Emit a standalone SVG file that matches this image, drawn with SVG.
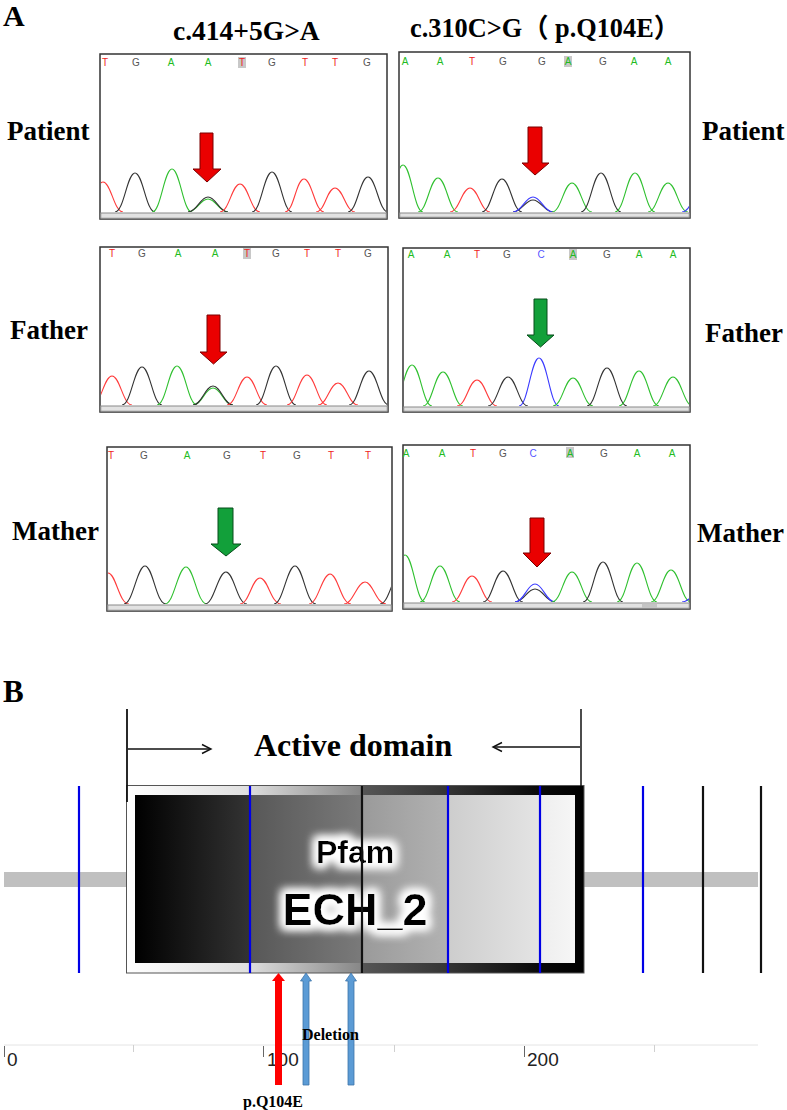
<svg xmlns="http://www.w3.org/2000/svg" width="787" height="1110" viewBox="0 0 787 1110">
<style>
.lbl{font-family:"Liberation Serif","Times New Roman",serif;font-weight:bold;fill:#000}
.base{font-family:"Liberation Sans",Arial,sans-serif;font-size:10px}
.frame{fill:#fff;stroke:#333;stroke-width:1.5}
.band{fill:#e2e2e2;stroke:#8a8a8a;stroke-width:1}
.tr{fill:none;stroke-width:1.1}
.r{stroke:#ff3b3b}.k{stroke:#333}.g{stroke:#2fc02f}.b{stroke:#3a3aff}
.tr.r,.tr.k,.tr.g,.tr.b{fill:none}
.lr{fill:#e22}.lk{fill:#555}.lg{fill:#2b2}.lb{fill:#55f}
.hl{fill:#c8c8c8}
.redA{fill:#ea0000;stroke:#7a0000;stroke-width:1}
.grnA{fill:#12a03a;stroke:#064d1a;stroke-width:1}
.blue{stroke:#0000e6;stroke-width:2.2}
.blk{stroke:#111;stroke-width:2.2}
.ax{font-family:"Liberation Sans",Arial,sans-serif;font-size:19px;fill:#222}
.pf{font-family:"Liberation Sans",Arial,sans-serif;font-weight:bold;fill:#000;text-anchor:middle}
.upB{fill:#5b9bd5;stroke:#3d74a8;stroke-width:0.8}
</style>
<defs>
<linearGradient id="outerG" x1="0" y1="0" x2="1" y2="0">
<stop offset="0" stop-color="#ffffff"/><stop offset="0.26" stop-color="#e0e0e0"/><stop offset="0.51" stop-color="#888"/><stop offset="0.52" stop-color="#555"/><stop offset="0.71" stop-color="#333"/><stop offset="0.9" stop-color="#0a0a0a"/><stop offset="1" stop-color="#000"/>
</linearGradient>
<linearGradient id="innerG" x1="0" y1="0" x2="1" y2="0">
<stop offset="0" stop-color="#000"/><stop offset="0.26" stop-color="#333"/><stop offset="0.2601" stop-color="#575757"/><stop offset="0.515" stop-color="#7a7a7a"/><stop offset="0.516" stop-color="#9a9a9a"/><stop offset="0.711" stop-color="#b2b2b2"/><stop offset="0.712" stop-color="#cdcdcd"/><stop offset="0.92" stop-color="#e4e4e4"/><stop offset="0.921" stop-color="#eeeeee"/><stop offset="1" stop-color="#f6f6f6"/>
</linearGradient>
<filter id="glow" x="-30%" y="-60%" width="160%" height="220%">
<feMorphology operator="dilate" radius="4" in="SourceAlpha" result="d"/>
<feGaussianBlur in="d" stdDeviation="5" result="bl"/>
<feFlood flood-color="#ffffff" result="w"/>
<feComposite in="w" in2="bl" operator="in" result="gl"/>
<feMerge><feMergeNode in="gl"/><feMergeNode in="gl"/><feMergeNode in="SourceGraphic"/></feMerge>
</filter>
<clipPath id="c1"><rect x="101" y="55" width="285" height="157"/></clipPath>
<clipPath id="c2"><rect x="400" y="53" width="289" height="159"/></clipPath>
<clipPath id="c3"><rect x="101" y="248" width="286" height="157"/></clipPath>
<clipPath id="c4"><rect x="404" y="249" width="285" height="157"/></clipPath>
<clipPath id="c5"><rect x="108" y="448" width="283" height="156"/></clipPath>
<clipPath id="c6"><rect x="404" y="446" width="285" height="156"/></clipPath>
</defs>

<!-- Panel A labels -->
<g id="panelA-labels">
<text class="lbl" x="3" y="26" font-size="30">A</text>
<text class="lbl" x="173" y="40" font-size="27.5">c.414+5G&gt;A</text>
<text class="lbl" x="410" y="37" font-size="26.5" textLength="270" lengthAdjust="spacingAndGlyphs" style="font-family:'Liberation Serif','Noto Sans CJK SC',serif">c.310C&gt;G（ p.Q104E）</text>
<text class="lbl" x="7" y="140" font-size="27">Patient</text>
<text class="lbl" x="702" y="140" font-size="27">Patient</text>
<text class="lbl" x="10" y="339" font-size="27">Father</text>
<text class="lbl" x="705" y="342" font-size="27">Father</text>
<text class="lbl" x="12" y="540" font-size="27">Mather</text>
<text class="lbl" x="697" y="542" font-size="27">Mather</text>
</g>

<!-- Chromatogram 1: Patient c.414+5G>A -->
<g id="chrom-patient-left">
<rect class="frame" x="100" y="54" width="287" height="165"/>
<rect class="band" x="100.75" y="213" width="285.5" height="5.25"/>
<rect class="hl" x="238" y="57" width="8" height="11"/>
<g class="base">
<text class="lr" x="105" y="66" text-anchor="middle">T</text><text class="lk" x="136" y="66" text-anchor="middle">G</text><text class="lg" x="171" y="66" text-anchor="middle">A</text><text class="lg" x="208" y="66" text-anchor="middle">A</text><text class="lr" x="242" y="66" text-anchor="middle">T</text><text class="lk" x="272" y="66" text-anchor="middle">G</text><text class="lr" x="305" y="66" text-anchor="middle">T</text><text class="lr" x="335" y="66" text-anchor="middle">T</text><text class="lk" x="367" y="66" text-anchor="middle">G</text>
</g>
<g clip-path="url(#c1)">
<path class="tr r" d="M83,212 C92,212 95,182 103,182 C111,182 114,212 123,212"/>
<path class="tr k" d="M115,212 C124,212 127,173 135,173 C143,173 146,212 155,212"/>
<path class="tr g" d="M152,212 C161,212 164,169 172,169 C180,169 183,212 192,212"/>
<path class="tr g" d="M188,212 C197,212 200,199 208,199 C216,199 219,212 228,212"/>
<path class="tr k" d="M188,212 C197,212 200,197 208,197 C216,197 219,212 228,212"/>
<path class="tr r" d="M220,212 C229,212 232,184 240,184 C248,184 251,212 260,212"/>
<path class="tr k" d="M252,212 C261,212 264,172 272,172 C280,172 283,212 292,212"/>
<path class="tr r" d="M285,212 C294,212 296,179 304,179 C312,179 315,212 324,212"/>
<path class="tr r" d="M316,212 C325,212 327,188 335,188 C343,188 346,212 355,212"/>
<path class="tr k" d="M348,212 C357,212 360,177 368,177 C376,177 379,212 388,212"/>
</g>
<polygon class="redA" points="200,133 213,133 213,169 221,169 207,182 193,169 200,169"/>
</g>

<!-- Chromatogram 2: Patient c.310C>G -->
<g id="chrom-patient-right">
<rect class="frame" x="399" y="52" width="291" height="166"/>
<rect class="band" x="399.75" y="213" width="289.5" height="4.25"/>
<rect class="hl" x="564" y="56" width="8" height="11"/>
<g class="base">
<text class="lg" x="405" y="65" text-anchor="middle">A</text><text class="lg" x="440" y="65" text-anchor="middle">A</text><text class="lr" x="472" y="65" text-anchor="middle">T</text><text class="lk" x="503" y="65" text-anchor="middle">G</text><text class="lk" x="542" y="65" text-anchor="middle">G</text><text class="lg" x="568" y="65" text-anchor="middle">A</text><text class="lk" x="603" y="65" text-anchor="middle">G</text><text class="lg" x="634" y="65" text-anchor="middle">A</text><text class="lg" x="668" y="65" text-anchor="middle">A</text>
</g>
<g clip-path="url(#c2)">
<path class="tr g" d="M383,212 C392,212 395,165 403,165 C411,165 414,212 423,212"/>
<path class="tr g" d="M418,212 C427,212 430,178 438,178 C446,178 449,212 458,212"/>
<path class="tr r" d="M450,212 C459,212 462,188 470,188 C478,188 481,212 490,212"/>
<path class="tr k" d="M482,212 C491,212 494,179 502,179 C510,179 513,212 522,212"/>
<path class="tr k" d="M513,212 C522,212 525,200 533,200 C541,200 544,212 553,212"/>
<path class="tr b" d="M513,212 C522,212 525,197 533,197 C541,197 544,212 553,212"/>
<path class="tr g" d="M552,212 C561,212 564,183 572,183 C580,183 583,212 592,212"/>
<path class="tr k" d="M581,212 C590,212 593,173 601,173 C609,173 612,212 621,212"/>
<path class="tr g" d="M615,212 C624,212 627,173 635,173 C643,173 646,212 655,212"/>
<path class="tr g" d="M648,212 C657,212 660,183 668,183 C676,183 679,212 688,212"/>
<path class="tr b" d="M682,212 C691,212 694,190 702,190"/>
</g>
<polygon class="redA" points="528,127 542,127 542,163 549,163 535,175 522,163 528,163"/>
</g>

<!-- Chromatogram 3: Father left -->
<g id="chrom-father-left">
<rect class="frame" x="100" y="247" width="288" height="165"/>
<rect class="band" x="100.75" y="406" width="286.5" height="5.25"/>
<rect class="hl" x="243" y="248" width="8" height="11"/>
<g class="base">
<text class="lr" x="112" y="257" text-anchor="middle">T</text><text class="lk" x="142" y="257" text-anchor="middle">G</text><text class="lg" x="178" y="257" text-anchor="middle">A</text><text class="lg" x="215" y="257" text-anchor="middle">A</text><text class="lr" x="247" y="257" text-anchor="middle">T</text><text class="lk" x="276" y="257" text-anchor="middle">G</text><text class="lr" x="307" y="257" text-anchor="middle">T</text><text class="lr" x="338" y="257" text-anchor="middle">T</text><text class="lk" x="368" y="257" text-anchor="middle">G</text>
</g>
<g clip-path="url(#c3)">
<path class="tr r" d="M92,405 C101,405 104,376 112,376 C120,376 123,405 132,405"/>
<path class="tr k" d="M122,405 C131,405 134,367 142,367 C150,367 153,405 162,405"/>
<path class="tr g" d="M157,405 C166,405 169,366 177,366 C185,366 188,405 197,405"/>
<path class="tr g" d="M193,405 C202,405 205,388 213,388 C221,388 224,405 233,405"/>
<path class="tr k" d="M193,405 C202,405 205,386 213,386 C221,386 224,405 233,405"/>
<path class="tr r" d="M227,405 C236,405 239,377 247,377 C255,377 258,405 267,405"/>
<path class="tr k" d="M256,405 C265,405 268,366 276,366 C284,366 287,405 296,405"/>
<path class="tr r" d="M287,405 C296,405 299,375 307,375 C315,375 318,405 327,405"/>
<path class="tr r" d="M318,405 C327,405 330,383 338,383 C346,383 349,405 358,405"/>
<path class="tr k" d="M349,405 C358,405 361,371 369,371 C377,371 380,405 389,405"/>
</g>
<polygon class="redA" points="207,315 220,315 220,352 227,352 213.5,364 200,352 207,352"/>
</g>

<!-- Chromatogram 4: Father right -->
<g id="chrom-father-right">
<rect class="frame" x="403" y="248" width="287" height="164"/>
<rect class="band" x="403.75" y="407" width="285.5" height="4.25"/>
<rect class="hl" x="569" y="249" width="8" height="11"/>
<g class="base">
<text class="lg" x="411" y="258" text-anchor="middle">A</text><text class="lg" x="447" y="258" text-anchor="middle">A</text><text class="lr" x="477" y="258" text-anchor="middle">T</text><text class="lk" x="507" y="258" text-anchor="middle">G</text><text class="lb" x="541" y="258" text-anchor="middle">C</text><text class="lg" x="573" y="258" text-anchor="middle">A</text><text class="lk" x="607" y="258" text-anchor="middle">G</text><text class="lg" x="639" y="258" text-anchor="middle">A</text><text class="lg" x="673" y="258" text-anchor="middle">A</text>
</g>
<g clip-path="url(#c4)">
<path class="tr g" d="M392,406 C401,406 404,365 412,365 C420,365 423,406 432,406"/>
<path class="tr g" d="M423,406 C432,406 435,372 443,372 C451,372 454,406 463,406"/>
<path class="tr r" d="M457,406 C466,406 469,380 477,380 C485,380 488,406 497,406"/>
<path class="tr k" d="M488,406 C497,406 500,377 508,377 C516,377 519,406 528,406"/>
<path class="tr b" d="M519,406 C528,406 531,358 539,358 C547,358 550,406 559,406"/>
<path class="tr g" d="M553,406 C562,406 565,378 573,378 C581,378 584,406 593,406"/>
<path class="tr k" d="M587,406 C596,406 599,368 607,368 C615,368 618,406 627,406"/>
<path class="tr g" d="M619,406 C628,406 631,371 639,371 C647,371 650,406 659,406"/>
<path class="tr g" d="M653,406 C662,406 665,377 673,377 C681,377 684,406 693,406"/>
</g>
<polygon class="grnA" points="534,299 547,299 547,335 554,335 540.5,347 527,335 534,335"/>
</g>

<!-- Chromatogram 5: Mother left -->
<g id="chrom-mother-left">
<rect class="frame" x="107" y="447" width="285" height="164"/>
<rect class="band" x="107.75" y="605" width="283.5" height="5.25"/>
<g class="base">
<text class="lr" x="111" y="459" text-anchor="middle">T</text><text class="lk" x="144" y="459" text-anchor="middle">G</text><text class="lg" x="187" y="459" text-anchor="middle">A</text><text class="lk" x="227" y="459" text-anchor="middle">G</text><text class="lr" x="263" y="459" text-anchor="middle">T</text><text class="lk" x="297" y="459" text-anchor="middle">G</text><text class="lr" x="331" y="459" text-anchor="middle">T</text><text class="lr" x="368" y="459" text-anchor="middle">T</text>
</g>
<g clip-path="url(#c5)">
<path class="tr r" d="M87,604 C96,604 100,573 108,573 C116,573 119,604 129,604"/>
<path class="tr k" d="M124,604 C133,604 137,566 145,566 C153,566 156,604 166,604"/>
<path class="tr g" d="M165,604 C174,604 178,567 186,567 C194,567 197,604 207,604"/>
<path class="tr k" d="M205,604 C214,604 218,572 226,572 C234,572 237,604 247,604"/>
<path class="tr r" d="M240,604 C249,604 252,578 260,578 C268,578 271,604 281,604"/>
<path class="tr k" d="M274,604 C283,604 287,566 295,566 C303,566 306,604 316,604"/>
<path class="tr r" d="M309,604 C318,604 322,574 330,574 C338,574 341,604 351,604"/>
<path class="tr r" d="M344,604 C353,604 357,582 365,582 C373,582 376,604 386,604"/>
<path class="tr k" d="M380,604 C389,604 392,575 400,575"/>
</g>
<polygon class="grnA" points="218,508 233,508 233,544 241,544 226,556 211,544 218,544"/>
</g>

<!-- Chromatogram 6: Mother right -->
<g id="chrom-mother-right">
<rect class="frame" x="403" y="445" width="287" height="164"/>
<rect class="band" x="403.75" y="603" width="285.5" height="5.25"/>
<rect x="642" y="603.5" width="15" height="4.5" fill="#c4c4c4"/>
<rect class="hl" x="566" y="447" width="8" height="11"/>
<g class="base">
<text class="lg" x="406" y="457" text-anchor="middle">A</text><text class="lg" x="442" y="457" text-anchor="middle">A</text><text class="lr" x="473" y="457" text-anchor="middle">T</text><text class="lk" x="503" y="457" text-anchor="middle">G</text><text class="lb" x="533" y="457" text-anchor="middle">C</text><text class="lg" x="570" y="457" text-anchor="middle">A</text><text class="lk" x="604" y="457" text-anchor="middle">G</text><text class="lg" x="637" y="457" text-anchor="middle">A</text><text class="lg" x="672" y="457" text-anchor="middle">A</text>
</g>
<g clip-path="url(#c6)">
<path class="tr g" d="M385,602 C394,602 397,555 405,555 C413,555 416,602 425,602"/>
<path class="tr g" d="M420,602 C429,602 432,566 440,566 C448,566 451,602 460,602"/>
<path class="tr r" d="M452,602 C461,602 464,576 472,576 C480,576 483,602 492,602"/>
<path class="tr k" d="M483,602 C492,602 495,571 503,571 C511,571 514,602 523,602"/>
<path class="tr k" d="M515,602 C524,602 527,589 535,589 C543,589 546,602 555,602"/>
<path class="tr b" d="M515,602 C524,602 527,584 535,584 C543,584 546,602 555,602"/>
<path class="tr g" d="M552,602 C561,602 564,572 572,572 C580,572 583,602 592,602"/>
<path class="tr k" d="M583,602 C592,602 595,562 603,562 C611,562 614,602 623,602"/>
<path class="tr g" d="M617,602 C626,602 629,563 637,563 C645,563 648,602 657,602"/>
<path class="tr g" d="M651,602 C660,602 663,570 671,570 C679,570 682,602 691,602"/>
<path class="tr b" d="M682,602 C691,602 694,590 702,590"/>
</g>
<polygon class="redA" points="530,518 544,518 544,553 551,553 537,567 523,553 530,553"/>
</g>

<!-- Panel B -->
<text class="lbl" x="3" y="702" font-size="31">B</text>

<g id="backbone">
<rect x="4" y="872" width="122" height="15" fill="#c0c0c0"/>
<rect x="584" y="872" width="174" height="15" fill="#c0c0c0"/>
</g>

<g id="pfam-domain">
<rect x="126.5" y="785.5" width="457.5" height="187.5" fill="url(#outerG)" stroke="#555" stroke-width="1"/>
<rect x="135" y="795" width="440" height="168" fill="url(#innerG)"/>
<text class="pf" x="355" y="863" font-size="32" filter="url(#glow)">Pfam</text>
<text class="pf" x="355" y="925" font-size="45" filter="url(#glow)">ECH_2</text>
</g>

<g id="site-lines">
<line class="blue" x1="79" y1="786" x2="79" y2="973"/>
<line class="blue" x1="250" y1="786" x2="250" y2="973"/>
<line class="blk" x1="362" y1="786" x2="362" y2="973"/>
<line class="blue" x1="448" y1="786" x2="448" y2="973"/>
<line class="blue" x1="540" y1="786" x2="540" y2="973"/>
<line class="blue" x1="643" y1="786" x2="643" y2="973"/>
<line class="blk" x1="703" y1="786" x2="703" y2="973"/>
<line class="blk" x1="761" y1="786" x2="761" y2="973"/>
</g>

<g id="active-domain">
<line x1="127" y1="709" x2="127" y2="802" stroke="#111" stroke-width="1.8"/>
<line x1="581" y1="709" x2="581" y2="786" stroke="#111" stroke-width="1.5"/>
<line x1="128" y1="749" x2="210" y2="749" stroke="#111" stroke-width="1.4"/>
<polyline points="202,744.5 211,749 202,753.5" fill="none" stroke="#111" stroke-width="1.4"/>
<line x1="580" y1="747" x2="494" y2="747" stroke="#111" stroke-width="1.4"/>
<polyline points="502,742.5 493,747 502,751.5" fill="none" stroke="#111" stroke-width="1.4"/>
<text class="lbl" x="254" y="756" font-size="32">Active domain</text>
</g>

<g id="axis">
<line x1="4" y1="1045" x2="758" y2="1045" stroke="#e4e4e4" stroke-width="1"/>
<g stroke="#666" stroke-width="1"><line x1="4.5" y1="1046" x2="4.5" y2="1057"/><line x1="263.5" y1="1046" x2="263.5" y2="1057"/><line x1="524.5" y1="1046" x2="524.5" y2="1057"/></g>
<g stroke="#d0d0d0" stroke-width="1"><line x1="133.5" y1="1045" x2="133.5" y2="1052"/><line x1="394.5" y1="1045" x2="394.5" y2="1052"/><line x1="654.5" y1="1045" x2="654.5" y2="1052"/></g>
<text class="ax" x="7" y="1066">0</text>
<text class="ax" x="267" y="1066">100</text>
<text class="ax" x="527" y="1066">200</text>
</g>

<g id="mutation-markers">
<polygon points="278.5,973 285,981 282,981 282,1085 275,1085 275,981 272,981" fill="#ff0000"/>
<polygon class="upB" points="306,973 311.5,981 309,981 309,1085 303,1085 303,981 300.5,981"/>
<polygon class="upB" points="351,973 356.5,981 354,981 354,1085 348,1085 348,981 345.5,981"/>
<text class="lbl" x="302" y="1040" font-size="16">Deletion</text>
<text class="lbl" x="243" y="1107" font-size="16">p.Q104E</text>
</g>
</svg>
